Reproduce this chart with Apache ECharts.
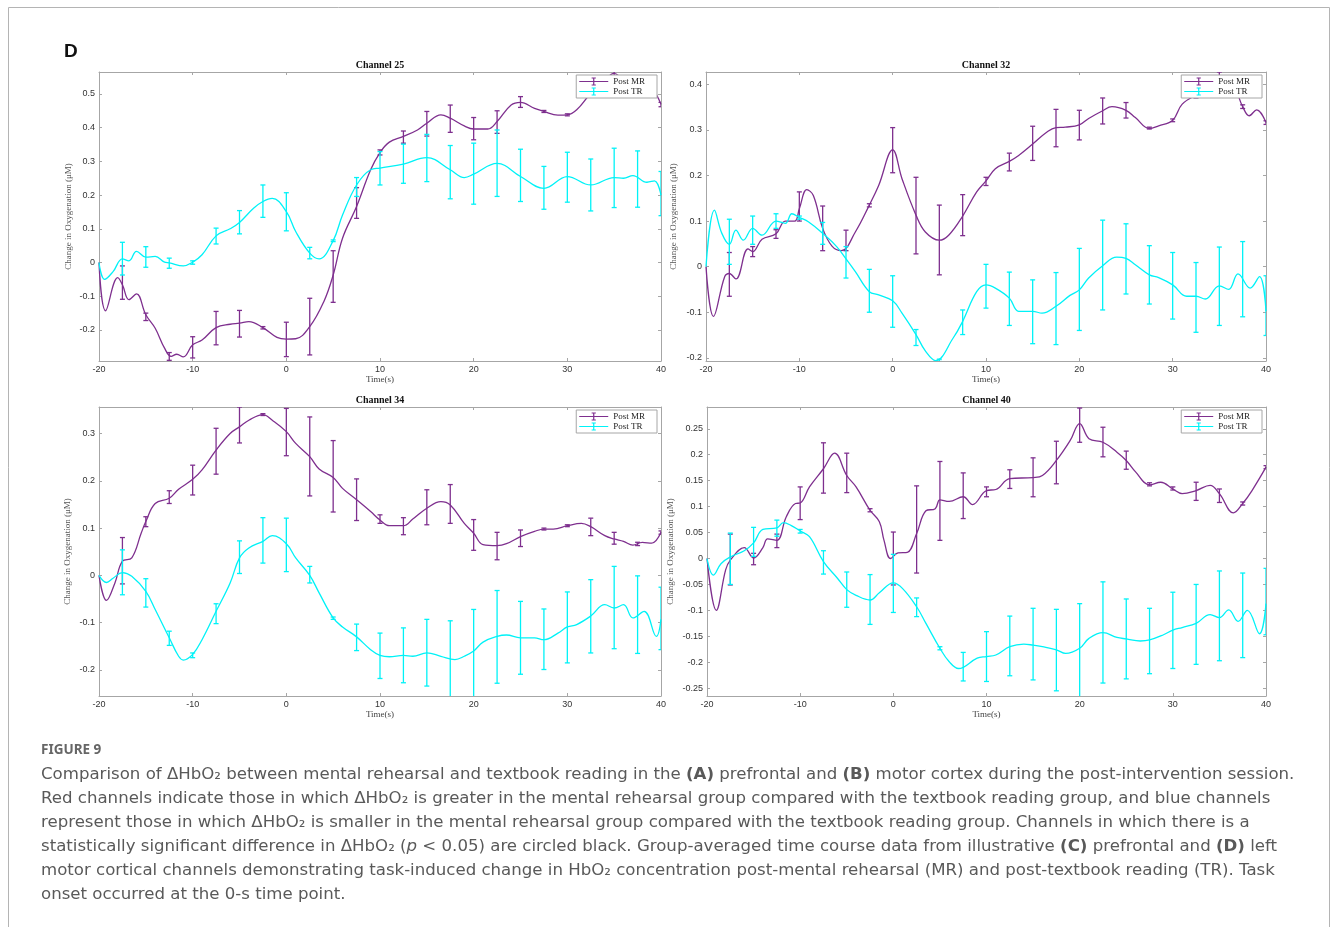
<!DOCTYPE html>
<html>
<head>
<meta charset="utf-8">
<script src="https://cdn.jsdelivr.net/npm/echarts@6/dist/echarts.min.js"></script>
<style>
html,body{margin:0;padding:0;background:#fff}
#chart{width:1331px;height:927px}
</style>
</head>
<body>
<div id="chart"></div>
<script>
// time points where the error bars sit (s)
const errT = [-17.5,-15,-12.5,-10,-7.5,-5,-2.5,0,2.5,5,7.5,10,12.5,15,17.5,20,22.5,25,27.5,30,32.5,35,37.5,40];

// Channel 25
const ch25Mr = [[-20,0],[-19.3,-0.143],[-18,-0.045],[-17.5,-0.066],[-16.8,-0.11],[-16,-0.093],[-15,-0.155],[-14,-0.195],[-13,-0.254],[-12.3,-0.278],[-11.7,-0.272],[-11,-0.28],[-10,-0.244],[-9,-0.23],[-7.5,-0.193],[-6,-0.183],[-5,-0.18],[-4,-0.175],[-2.5,-0.193],[-1,-0.222],[0,-0.227],[1,-0.226],[2.5,-0.19],[4,-0.116],[5,-0.037],[6,0.072],[7.5,0.166],[9,0.275],[10,0.326],[11,0.357],[12.5,0.374],[14,0.393],[15,0.413],[16.5,0.438],[17.5,0.428],[19,0.405],[20,0.396],[21.5,0.396],[22.5,0.418],[24,0.467],[25,0.475],[26.5,0.457],[27.5,0.448],[29,0.437],[30,0.438],[31,0.453],[32.5,0.502],[34,0.541],[35,0.561],[36,0.546],[37,0.554],[39,0.517],[40,0.469]];
const ch25MrLo = [-0.109,-0.172,-0.29,-0.283,-0.244,-0.221,-0.197,-0.279,-0.274,-0.118,0.131,0.319,0.354,0.375,0.386,0.364,0.383,0.46,0.445,0.435,0.49,0.55,0.545,0.462];
const ch25MrHi = [-0.01,-0.15,-0.267,-0.22,-0.145,-0.142,-0.19,-0.177,-0.106,0.035,0.222,0.334,0.39,0.448,0.467,0.43,0.45,0.492,0.451,0.441,0.51,0.575,0.552,0.475];
const ch25Tr = [[-20,0],[-19.4,-0.05],[-18.5,-0.027],[-17.5,0.011],[-16.8,0.005],[-16,0.033],[-15,0.016],[-14,0.018],[-13,0.001],[-12.5,-0.001],[-11,-0.01],[-10,0.001],[-9,0.023],[-7.5,0.079],[-6,0.1],[-5,0.119],[-3.5,0.161],[-2.5,0.181],[-1.5,0.19],[0,0.151],[1,0.092],[2.5,0.028],[3.5,0.011],[5,0.065],[6,0.141],[7.5,0.23],[9,0.275],[10,0.28],[12.5,0.292],[15,0.311],[17.5,0.275],[19,0.252],[20,0.262],[22.5,0.294],[25,0.255],[27.5,0.22],[30,0.255],[32.5,0.23],[35,0.252],[36,0.25],[37,0.258],[38.5,0.238],[39.3,0.242],[40,0.2]];
const ch25TrLo = [-0.037,-0.014,-0.017,-0.005,0.055,0.085,0.134,0.094,0.011,0.062,0.196,0.23,0.235,0.24,0.189,0.173,0.196,0.181,0.158,0.179,0.153,0.163,0.164,0.139];
const ch25TrHi = [0.06,0.047,0.013,0.005,0.102,0.154,0.23,0.207,0.045,0.067,0.252,0.329,0.351,0.38,0.347,0.354,0.393,0.336,0.285,0.327,0.307,0.339,0.331,0.27];

// Channel 32
const ch32Mr = [[-20,0],[-19.2,-0.109],[-18,-0.022],[-17.5,-0.015],[-16.8,-0.027],[-15.5,0.039],[-15,0.033],[-14,0.06],[-12.5,0.072],[-11.5,0.1],[-10.5,0.1],[-10,0.127],[-9.2,0.169],[-8.5,0.156],[-7.5,0.084],[-6.5,0.045],[-5.5,0.035],[-4,0.076],[-2.5,0.135],[-1.5,0.178],[0,0.256],[1,0.193],[2.5,0.113],[3.5,0.076],[5,0.058],[6,0.069],[7.5,0.111],[9,0.164],[10,0.188],[11,0.215],[12.5,0.231],[13.5,0.244],[15,0.269],[16.5,0.295],[17.5,0.305],[18.5,0.306],[20,0.311],[21,0.325],[22.5,0.342],[23.5,0.351],[25,0.343],[26,0.327],[27.5,0.303],[28.5,0.309],[30,0.321],[31,0.356],[32.5,0.376],[33.5,0.382],[35,0.415],[36.5,0.396],[37.5,0.351],[38.2,0.331],[39,0.344],[40,0.316]];
const ch32MrLo = [-0.065,0.022,0.062,0.1,0.035,0.035,0.131,0.206,0.028,-0.018,0.068,0.178,0.21,0.233,0.263,0.278,0.313,0.326,0.302,0.318,0.37,0.404,0.347,0.312];
const ch32MrHi = [0.031,0.044,0.081,0.164,0.133,0.08,0.138,0.305,0.196,0.135,0.158,0.196,0.249,0.308,0.345,0.343,0.37,0.36,0.306,0.324,0.38,0.427,0.355,0.32];
const ch32Tr = [[-20,0],[-19.1,0.124],[-18.3,0.073],[-17.5,0.049],[-16.8,0.08],[-16,0.058],[-15,0.084],[-14,0.069],[-12.5,0.1],[-11.5,0.095],[-10.8,0.116],[-10,0.108],[-9,0.098],[-7.5,0.073],[-6,0.044],[-5,0.017],[-4,-0.011],[-2.5,-0.055],[-1.5,-0.062],[0,-0.075],[1,-0.102],[2.5,-0.149],[3.5,-0.185],[4.6,-0.206],[6.5,-0.156],[7.5,-0.12],[9,-0.055],[10,-0.04],[11,-0.047],[12.5,-0.069],[13.5,-0.098],[15,-0.098],[16,-0.102],[17.5,-0.087],[19,-0.063],[20,-0.051],[21,-0.025],[22.5,0.002],[24,0.021],[25,0.018],[26,0.004],[27.5,-0.018],[28.5,-0.024],[30,-0.04],[31.5,-0.065],[32.5,-0.065],[33.5,-0.071],[35,-0.042],[36,-0.05],[37,-0.016],[38.3,-0.047],[39.3,-0.022],[40,-0.098]];
const ch32TrLo = [0.005,0.049,0.084,0.104,0.049,-0.025,-0.1,-0.133,-0.173,-0.208,-0.149,-0.091,-0.129,-0.169,-0.171,-0.14,-0.095,-0.06,-0.082,-0.115,-0.144,-0.129,-0.11,-0.151];
const ch32TrHi = [0.104,0.111,0.116,0.111,0.097,0.044,-0.006,-0.02,-0.138,-0.203,-0.095,0.005,-0.012,-0.029,-0.013,0.04,0.102,0.094,0.046,0.031,0.009,0.043,0.055,-0.02];

// Channel 34
const ch34Mr = [[-20,0],[-19.2,-0.053],[-18.3,-0.016],[-17.5,0.03],[-16.5,0.037],[-15.5,0.089],[-15,0.114],[-14,0.152],[-12.5,0.163],[-11.5,0.182],[-10,0.203],[-9,0.223],[-7.5,0.265],[-6,0.3],[-5,0.314],[-4,0.328],[-2.5,0.34],[-1.5,0.328],[0,0.304],[1,0.279],[2.5,0.251],[3.5,0.225],[5,0.207],[6,0.184],[7.5,0.16],[9,0.135],[10,0.117],[11,0.105],[12.5,0.105],[13.5,0.119],[15,0.142],[16.5,0.156],[17.5,0.149],[19,0.11],[20,0.089],[21,0.065],[22.5,0.063],[23.5,0.067],[25,0.082],[26.5,0.093],[27.5,0.098],[28.5,0.098],[30,0.105],[31.5,0.11],[32.5,0.103],[34,0.084],[35,0.077],[36,0.072],[37,0.064],[38,0.07],[39,0.068],[40,0.091]];
const ch34MrLo = [-0.018,0.103,0.152,0.17,0.214,0.28,0.338,0.253,0.168,0.134,0.116,0.11,0.086,0.107,0.11,0.053,0.033,0.061,0.096,0.103,0.084,0.066,0.063,0.087];
const ch34MrHi = [0.08,0.124,0.179,0.233,0.311,0.356,0.342,0.353,0.335,0.285,0.204,0.128,0.122,0.181,0.192,0.118,0.091,0.096,0.1,0.107,0.121,0.091,0.07,0.094];
const ch34Tr = [[-20,0],[-19.2,-0.015],[-18.5,-0.006],[-17.5,0.006],[-16.5,-0.002],[-15,-0.034],[-14,-0.072],[-12.5,-0.132],[-11.5,-0.171],[-11,-0.179],[-10,-0.167],[-9,-0.136],[-7.5,-0.076],[-6,-0.016],[-5,0.037],[-4,0.058],[-2.5,0.072],[-1.5,0.084],[0,0.067],[1,0.037],[2.5,0],[3.5,-0.037],[5,-0.09],[6,-0.109],[7.5,-0.13],[9,-0.157],[10,-0.169],[11,-0.172],[12.5,-0.169],[13.5,-0.171],[15,-0.164],[16.5,-0.171],[18,-0.178],[19,-0.171],[20,-0.16],[21,-0.141],[22.5,-0.129],[23.5,-0.126],[25,-0.132],[26.5,-0.132],[27.5,-0.136],[29,-0.122],[30,-0.109],[31,-0.104],[32.5,-0.086],[34,-0.062],[35,-0.069],[36,-0.062],[37,-0.09],[38.2,-0.076],[39.5,-0.129],[40,-0.093]];
const ch34TrLo = [-0.041,-0.067,-0.148,-0.174,-0.102,0.004,0.026,0.008,-0.016,-0.093,-0.159,-0.218,-0.227,-0.234,-0.26,-0.265,-0.228,-0.209,-0.199,-0.185,-0.164,-0.155,-0.165,-0.157];
const ch34TrHi = [0.054,-0.007,-0.118,-0.164,-0.06,0.073,0.122,0.121,0.019,-0.088,-0.103,-0.122,-0.111,-0.093,-0.096,-0.072,-0.032,-0.055,-0.071,-0.035,-0.009,0.019,-0.001,-0.025];

// Channel 40
const ch40Mr = [[-20,0],[-19,-0.1],[-18,-0.022],[-17.5,-0.003],[-16,0.021],[-15,0.001],[-14,0.021],[-13.5,0.038],[-12.5,0.035],[-11.5,0.08],[-10.5,0.106],[-10,0.107],[-9,0.138],[-7.5,0.173],[-6.3,0.203],[-5,0.16],[-4,0.138],[-2.5,0.093],[-1.5,0.071],[-1,0.035],[-0.3,0],[0.5,0.011],[1.5,0.012],[2.5,0.048],[3.5,0.092],[4.5,0.096],[5,0.113],[6,0.11],[7.5,0.119],[8.5,0.104],[10,0.131],[11,0.133],[12.5,0.154],[15,0.156],[16,0.16],[17.5,0.189],[19,0.228],[20,0.26],[21,0.231],[22.5,0.224],[24,0.205],[25,0.189],[26,0.167],[27.5,0.142],[28.7,0.147],[30,0.134],[31,0.125],[32.5,0.131],[34,0.141],[35,0.125],[36.5,0.088],[37.5,0.106],[38.5,0.131],[40,0.176]];
const ch40MrLo = [-0.051,-0.012,0.021,0.075,0.126,0.127,0.09,-0.051,-0.028,0.035,0.077,0.119,0.135,0.119,0.144,0.224,0.196,0.172,0.14,0.132,0.112,0.108,0.103,0.173];
const ch40MrHi = [0.047,0.01,0.047,0.138,0.223,0.203,0.096,0.051,0.14,0.187,0.165,0.138,0.171,0.194,0.226,0.29,0.253,0.207,0.146,0.138,0.147,0.134,0.109,0.179];
const ch40Tr = [[-20,0],[-19.3,-0.032],[-18.5,-0.01],[-17.5,0.003],[-16,0.015],[-15,0.03],[-14,0.056],[-12.5,0.059],[-11.8,0.069],[-11,0.064],[-10,0.053],[-9,0.042],[-7.5,-0.006],[-6,-0.038],[-5,-0.06],[-4,-0.071],[-2.5,-0.08],[-1.5,-0.066],[0,-0.047],[1,-0.058],[2.5,-0.093],[3.5,-0.125],[5,-0.173],[6,-0.199],[7,-0.212],[9,-0.192],[10,-0.189],[11,-0.186],[12.5,-0.17],[14,-0.165],[15,-0.167],[16,-0.17],[17.5,-0.176],[18.5,-0.183],[20,-0.173],[21,-0.154],[22.5,-0.143],[24,-0.152],[25,-0.155],[26.5,-0.159],[27.5,-0.157],[29,-0.147],[30,-0.138],[31,-0.133],[32.5,-0.125],[34,-0.108],[35,-0.114],[36,-0.099],[37,-0.121],[38,-0.1],[39.3,-0.145],[40,-0.087]];
const ch40TrLo = [-0.05,0.004,0.043,0.049,-0.03,-0.094,-0.127,-0.104,-0.112,-0.176,-0.236,-0.237,-0.226,-0.234,-0.255,-0.27,-0.24,-0.232,-0.222,-0.212,-0.204,-0.197,-0.191,-0.147];
const ch40TrHi = [0.049,0.06,0.074,0.056,0.015,-0.026,-0.031,0.008,-0.076,-0.17,-0.181,-0.141,-0.111,-0.096,-0.098,-0.087,-0.045,-0.078,-0.096,-0.065,-0.05,-0.024,-0.028,-0.019];

const MR_COLOR = '#7e2f8e';
const TR_COLOR = '#00f2f7';
const BOX = '#a6a6a6';
const SERIF = 'Liberation Serif';
const SANS = 'Liberation Sans';

const panels = [
  {title:'Channel 25', mr:ch25Mr, mrLo:ch25MrLo, mrHi:ch25MrHi, tr:ch25Tr, trLo:ch25TrLo, trHi:ch25TrHi,
   yMin:-0.292, yMax:0.565, step:0.1, left:99, top:72, width:562, nameGap:26},
  {title:'Channel 32', mr:ch32Mr, mrLo:ch32MrLo, mrHi:ch32MrHi, tr:ch32Tr, trLo:ch32TrLo, trHi:ch32TrHi,
   yMin:-0.207, yMax:0.427, step:0.1, left:706, top:72, width:560, nameGap:28},
  {title:'Channel 34', mr:ch34Mr, mrLo:ch34MrLo, mrHi:ch34MrHi, tr:ch34Tr, trLo:ch34TrLo, trHi:ch34TrHi,
   yMin:-0.255, yMax:0.356, step:0.1, left:99, top:407, width:562, nameGap:27},
  {title:'Channel 40', mr:ch40Mr, mrLo:ch40MrLo, mrHi:ch40MrHi, tr:ch40Tr, trLo:ch40TrLo, trHi:ch40TrHi,
   yMin:-0.265, yMax:0.292, step:0.05, left:707, top:407, width:559, nameGap:32}
];
const PLOT_H = 289;

function errRender(color) {
  return function (params, api) {
    const x = api.value(0);
    const pLo = api.coord([x, api.value(1)]);
    const pHi = api.coord([x, api.value(2)]);
    const w = 2.5;
    const st = {stroke: color, lineWidth: 1.3};
    return {type: 'group', children: [
      {type: 'line', shape: {x1: pLo[0], y1: pLo[1], x2: pHi[0], y2: pHi[1]}, style: st},
      {type: 'line', shape: {x1: pLo[0] - w, y1: pLo[1], x2: pLo[0] + w, y2: pLo[1]}, style: st},
      {type: 'line', shape: {x1: pHi[0] - w, y1: pHi[1], x2: pHi[0] + w, y2: pHi[1]}, style: st}
    ]};
  };
}

function tickFmt(step) {
  return function (v) {
    const k = v / step;
    if (Math.abs(k - Math.round(k)) > 1e-6) return '';
    if (Math.abs(v) < 1e-9) return '0';
    return String(parseFloat(v.toFixed(3)));
  };
}

const legendIcon = 'path://M0,3.4H29V4.6H0Z M13.9,0.6H15.1V7.4H13.9Z M12.4,0H16.6V1.1H12.4Z M12.4,6.9H16.6V8H12.4Z';

let grids = [], xAxes = [], yAxes = [], series = [], titles = [], legends = [];

panels.forEach(function (p, i) {
  grids.push({left: p.left, top: p.top, width: p.width, height: PLOT_H});
  const lineBase = {show: true, onZero: false, lineStyle: {color: BOX, width: 1}};
  const tickBase = {show: true, inside: true, length: 3, lineStyle: {color: BOX}};
  xAxes.push({
    gridIndex: i, type: 'value', min: -20, max: 40, interval: 10, position: 'bottom',
    axisLine: lineBase, axisTick: tickBase, splitLine: {show: false},
    axisLabel: {margin: 4, fontFamily: SANS, fontSize: 9, color: '#333'},
    name: 'Time(s)', nameLocation: 'middle', nameGap: 12,
    nameTextStyle: {fontFamily: SERIF, fontSize: 9, color: '#444'}
  });
  xAxes.push({
    gridIndex: i, type: 'value', min: -20, max: 40, interval: 10, position: 'top',
    axisLine: lineBase, axisTick: tickBase, splitLine: {show: false}, axisLabel: {show: false}
  });
  yAxes.push({
    gridIndex: i, type: 'value', min: p.yMin, max: p.yMax, minInterval: p.step, maxInterval: p.step,
    position: 'left', axisLine: lineBase, axisTick: tickBase, splitLine: {show: false},
    axisLabel: {margin: 4, fontFamily: SANS, fontSize: 9, color: '#333', formatter: tickFmt(p.step),
                showMinLabel: true, showMaxLabel: true},
    name: 'Change in Oxygenation (\u03bcM)', nameLocation: 'middle', nameGap: p.nameGap, nameRotate: 90,
    nameTextStyle: {fontFamily: SERIF, fontSize: 9, color: '#555'}
  });
  yAxes.push({
    gridIndex: i, type: 'value', min: p.yMin, max: p.yMax, minInterval: p.step, maxInterval: p.step,
    position: 'right', axisLine: lineBase, axisTick: tickBase, splitLine: {show: false}, axisLabel: {show: false}
  });
  const xi = 2 * i, yi = 2 * i;
  series.push({
    name: 'Post MR', type: 'line', xAxisIndex: xi, yAxisIndex: yi, data: p.mr,
    smooth: 0.4, showSymbol: false, silent: true, z: 2,
    itemStyle: {color: MR_COLOR}, lineStyle: {color: MR_COLOR, width: 1.3}
  });
  series.push({
    name: 'errMR', type: 'custom', xAxisIndex: xi, yAxisIndex: yi, clip: true, silent: true, z: 2,
    data: errT.map(function (t, k) { return [t, p.mrLo[k], p.mrHi[k]]; }),
    encode: {x: 0, y: [1, 2]}, renderItem: errRender(MR_COLOR)
  });
  series.push({
    name: 'Post TR', type: 'line', xAxisIndex: xi, yAxisIndex: yi, data: p.tr,
    smooth: 0.4, showSymbol: false, silent: true, z: 3,
    itemStyle: {color: TR_COLOR}, lineStyle: {color: TR_COLOR, width: 1.3}
  });
  series.push({
    name: 'errTR', type: 'custom', xAxisIndex: xi, yAxisIndex: yi, clip: true, silent: true, z: 3,
    data: errT.map(function (t, k) { return [t, p.trLo[k], p.trHi[k]]; }),
    encode: {x: 0, y: [1, 2]}, renderItem: errRender(TR_COLOR)
  });
  titles.push({
    text: p.title, left: p.left + p.width / 2, top: p.top - 12, textAlign: 'center', padding: 0,
    textStyle: {fontFamily: SERIF, fontSize: 10, fontWeight: 'bold', color: '#111'}
  });
  legends.push({
    data: ['Post MR', 'Post TR'], orient: 'vertical', selectedMode: false,
    right: 1331 - (p.left + p.width - 4), top: p.top + 3,
    itemWidth: 29, itemHeight: 8, itemGap: 1, padding: [2, 12, 2, 3],
    borderColor: BOX, borderWidth: 1, backgroundColor: '#fff', borderRadius: 0,
    icon: legendIcon, itemStyle: {borderWidth: 0},
    textStyle: {fontFamily: SERIF, fontSize: 9, color: '#222'}
  });
});

const CAP_FONT = 'DejaVu Sans';
const CAP_SIZE = 16.6;
const capBase = {fontFamily: CAP_FONT, fontSize: CAP_SIZE, fill: '#595959'};
const capRich = {
  n: {fontFamily: CAP_FONT, fontSize: CAP_SIZE, color: '#595959'},
  b: {fontFamily: CAP_FONT, fontSize: CAP_SIZE, fontWeight: 'bold', color: '#454545'},
  i: {fontFamily: CAP_FONT, fontSize: CAP_SIZE, fontStyle: 'italic', color: '#595959'}
};
const capLines = [
  '{n|Comparison of \u0394HbO\u2082 between mental rehearsal and textbook reading in the }{b|(A)}{n| prefrontal and }{b|(B)}{n| motor cortex during the post-intervention session.}',
  '{n|Red channels indicate those in which \u0394HbO\u2082 is greater in the mental rehearsal group compared with the textbook reading group, and blue channels}',
  '{n|represent those in which \u0394HbO\u2082 is smaller in the mental rehearsal group compared with the textbook reading group. Channels in which there is a}',
  '{n|statistically significant difference in \u0394HbO\u2082 (}{i|p}{n| < 0.05) are circled black. Group-averaged time course data from illustrative }{b|(C)}{n| prefrontal and }{b|(D)}{n| left}',
  '{n|motor cortical channels demonstrating task-induced change in HbO\u2082 concentration post-mental rehearsal (MR) and post-textbook reading (TR). Task}',
  '{n|onset occurred at the 0-s time point.}'
];

const graphics = [
  {type: 'polyline', silent: true, shape: {points: [[8.5, 927], [8.5, 7.5], [1329.5, 7.5], [1329.5, 927]]},
   style: {stroke: '#b4b4b4', lineWidth: 1, fill: null}},
  {type: 'text', left: 64, top: 42, silent: true,
   style: {text: 'D', fontFamily: SANS, fontSize: 19, fontWeight: 'bold', fill: '#111'}},
  {type: 'text', x: 41, y: 750, silent: true,
   style: {text: 'FIGURE 9', fontFamily: 'Noto Sans', fontSize: 13.5, fontWeight: 'bold', fill: '#666', verticalAlign: 'middle'}}
];
capLines.forEach(function (s, k) {
  graphics.push({type: 'text', x: 41, y: 775 + 24 * k, silent: true,
    style: Object.assign({text: s, rich: capRich, verticalAlign: 'middle'}, capBase)});
});

const chart = echarts.init(document.getElementById('chart'), null, {renderer: 'canvas'});
chart.setOption({
  animation: false,
  backgroundColor: '#fff',
  title: titles,
  legend: legends,
  grid: grids,
  xAxis: xAxes,
  yAxis: yAxes,
  series: series,
  graphic: graphics
});
</script>
</body>
</html>
